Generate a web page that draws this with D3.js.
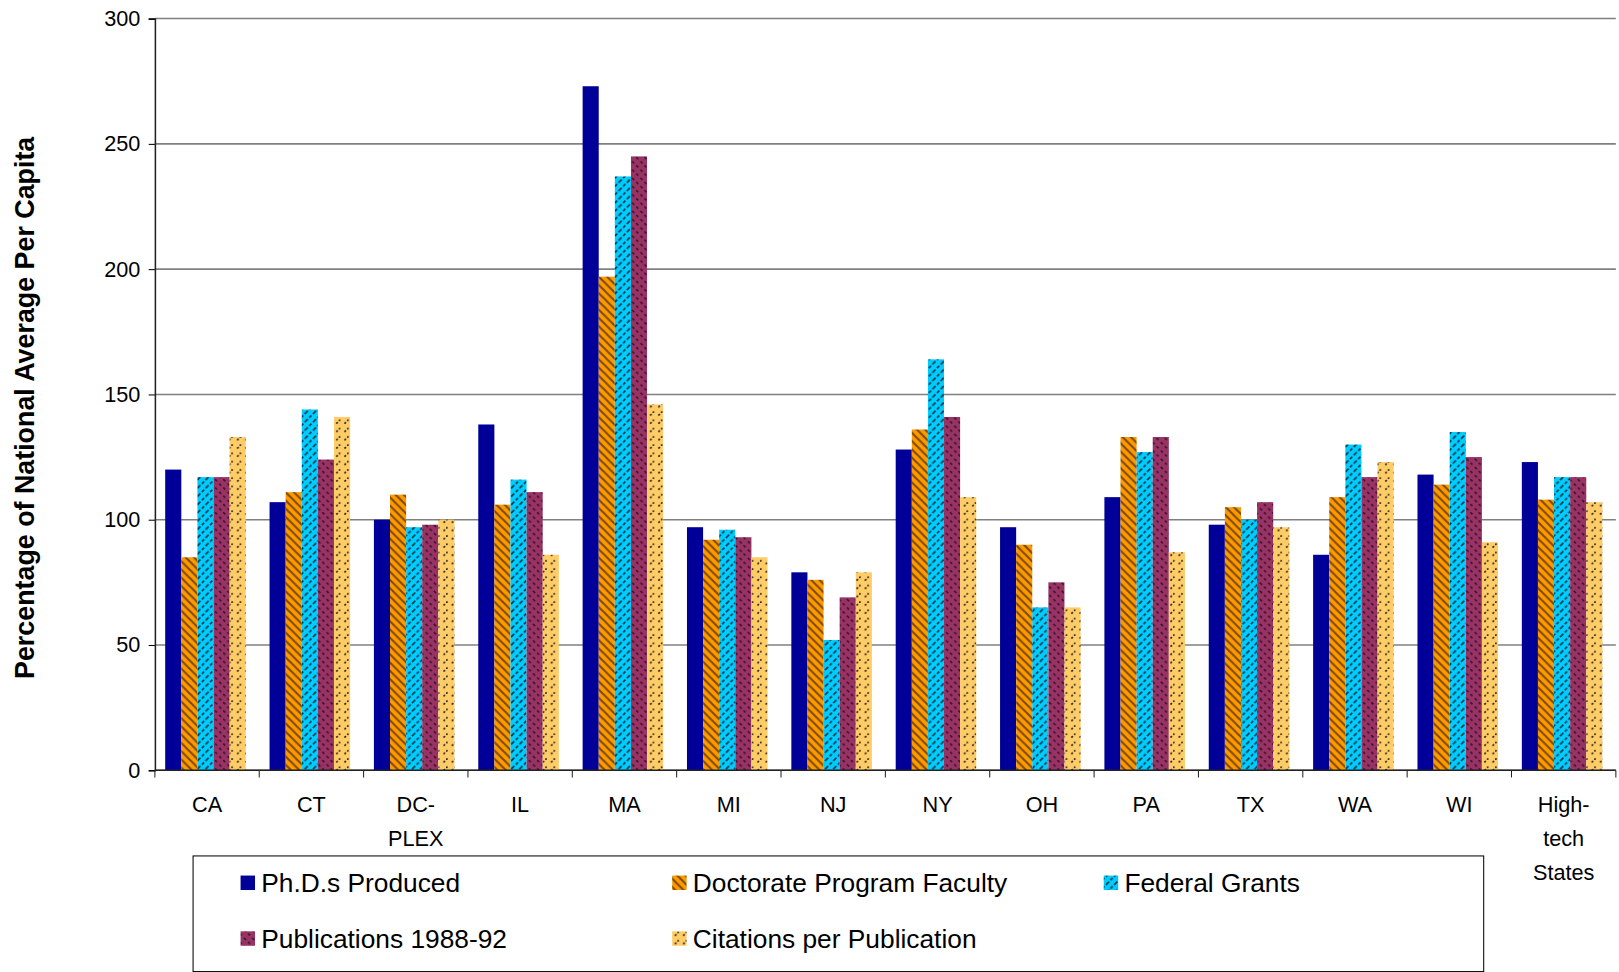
<!DOCTYPE html>
<html><head><meta charset="utf-8">
<script src="https://cdn.jsdelivr.net/npm/d3@7"></script>
<style>body{margin:0;background:#fff}text{font-family:"Liberation Sans",Arial,sans-serif}</style>
</head><body>
<svg width="1619" height="972"></svg>
<script>
var categories = ['CA','CT','DC-\nPLEX','IL','MA','MI','NJ','NY','OH','PA','TX','WA','WI','High-\ntech\nStates']
var seriesNames = ['Ph.D.s Produced','Doctorate Program Faculty','Federal Grants','Publications 1988-92','Citations per Publication']
var phds = [120,107,100,138,273,97,79,128,97,109,98,86,118,123]
var faculty = [85,111,110,106,197,92,76,136,90,133,105,109,114,108]
var grants = [117,144,97,116,237,96,52,164,65,127,100,130,135,117]
var pubs = [117,124,98,111,245,93,69,141,75,133,107,117,125,117]
var cites = [133,141,100,86,146,85,79,109,65,87,97,123,91,107]
var yTicks = [0,50,100,150,200,250,300]
var series = [phds, faculty, grants, pubs, cites]
var colors = ['#000099','#ff9900','#00ccff','#993366','#ffcc66']

var root = d3.select('svg')
var defs = root.append('defs')
// fill patterns: [id, base, line colour, direction, dash]
var pats = [
  ['p1','#ff9900','#7a4a00',1,null],
  ['p2','#00ccff','#003344',-1,'3,2'],
  ['p3','#993366','#3a1426',1,'3,3'],
  ['p4','#ffcc66','#222',-1,'2,6']
]
pats.forEach(function(p){
  var pt = defs.append('pattern').attr('id', p[0]).attr('patternUnits','userSpaceOnUse')
    .attr('width', 8).attr('height', 8)
  pt.append('rect').attr('width', 8).attr('height', 8).attr('fill', p[1])
  var d = p[3] > 0 ? 'M0,0 L8,8 M-4,4 L4,12 M4,-4 L12,4' : 'M0,8 L8,0 M-4,4 L4,-4 M4,12 L12,4'
  pt.append('path').attr('d', d).attr('stroke', p[2]).attr('stroke-width', p[4] ? 1.6 : 2)
    .attr('stroke-dasharray', p[4])
})
var fills = [colors[0],'url(#p1)','url(#p2)','url(#p3)','url(#p4)']

var svg = root.append('g').attr('transform', 'scale(1.0325)')

var x = d3.scaleBand().domain(d3.range(categories.length)).range([150, 1565])
var y = d3.scaleLinear().domain([0, 300]).range([746, 18])
var inner = d3.scaleBand().domain(d3.range(5)).range([10, 88])

svg.selectAll('.grid').data(yTicks).enter().append('line')
  .attr('x1', 150).attr('x2', 1565).attr('y1', y).attr('y2', y)
  .attr('stroke', '#808080').attr('stroke-width', 1.5)

series.forEach(function(s, si){
  svg.selectAll('.b' + si).data(s).enter().append('rect')
    .attr('x', function(d, i){ return x(i) + inner(si) })
    .attr('width', inner.bandwidth())
    .attr('y', function(d){ return y(d) })
    .attr('height', function(d){ return y(0) - y(d) })
    .attr('fill', fills[si])
})

var ax = svg.append('g').attr('transform', 'translate(150,0)')
  .call(d3.axisLeft(y).tickValues(yTicks).tickSize(6).tickPadding(8))
ax.select('.domain').attr('stroke', '#222').attr('stroke-width', 1.5)
ax.selectAll('text').attr('font-size', 21).attr('fill', '#000')

svg.append('line').attr('x1', 150).attr('x2', 1565).attr('y1', 746).attr('y2', 746).attr('stroke', '#222').attr('stroke-width', 1.5)
svg.selectAll('.xt').data(d3.range(categories.length + 1)).enter().append('line')
  .attr('x1', function(i){ return 150 + i * x.step() }).attr('x2', function(i){ return 150 + i * x.step() })
  .attr('y1', 746).attr('y2', 753).attr('stroke', '#222')

categories.forEach(function(c, i){
  var t = svg.append('text').attr('text-anchor', 'middle').attr('font-size', 21).attr('y', 786)
  c.split('\n').forEach(function(line, k){
    t.append('tspan').attr('x', x(i) + x.bandwidth() / 2).attr('dy', k ? 33 : 0).text(line)
  })
})

svg.append('text').attr('transform', 'translate(33,395) rotate(-90)').attr('text-anchor', 'middle')
  .attr('font-size', 26).attr('font-weight', 'bold')
  .text('Percentage of National Average Per Capita')

svg.append('rect').attr('x', 187).attr('y', 829).attr('width', 1250).attr('height', 112)
  .attr('fill', '#fff').attr('stroke', '#000').attr('stroke-width', 1)
var lpos = [[233,855],[651,855],[1069,855],[233,909],[651,909]]
seriesNames.forEach(function(n, i){
  svg.append('rect').attr('x', lpos[i][0]).attr('y', lpos[i][1] - 7).attr('width', 14).attr('height', 14).attr('fill', fills[i])
  svg.append('text').attr('x', lpos[i][0] + 20).attr('y', lpos[i][1] + 9).attr('font-size', 25.5).text(n)
})
</script>
</body></html>
